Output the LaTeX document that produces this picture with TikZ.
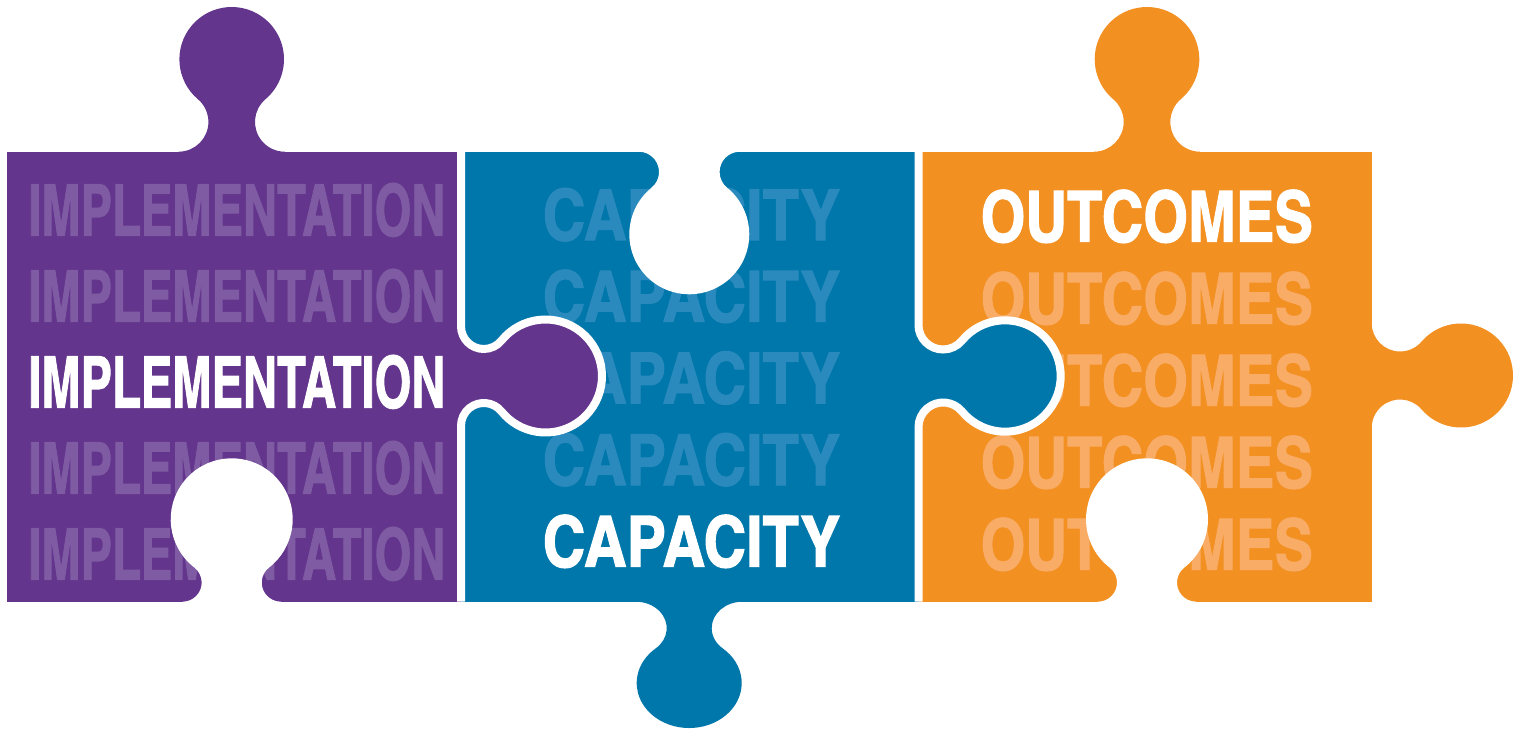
\documentclass[tikz,border=0pt]{standalone}
\usepackage{fontspec}
\setmainfont{TeX Gyre Heros}
\newfontfamily\cnd[BoldFeatures={FakeBold=1.5}]{TeX Gyre Heros Cn}
\usepackage{graphicx}
\definecolor{pur}{HTML}{63358C}
\definecolor{purl}{HTML}{7E5BA2}
\definecolor{blu}{HTML}{0077AA}
\definecolor{blul}{HTML}{2A8ABD}
\definecolor{ora}{HTML}{F39022}
\definecolor{oral}{HTML}{F8AC66}
\newcommand\setknob[3]{%
  \pgfmathsetmacro\knobT{(#2+#1-#3)/10}%
  \pgfmathsetmacro\knobQ{(#3/10)*(#3/10)+(#2/10)*(#2/10)-(#1/10)*(#1/10)}%
  \pgfmathsetmacro\knobr{10*(\knobT-sqrt(\knobT*\knobT-\knobQ))}%
  \pgfmathsetmacro\knobH{#3+\knobr}%
  \pgfmathsetmacro\knobA{atan2(#2-\knobr,\knobH)}%
  \pgfmathsetmacro\knobB{\knobA+180}%
  \pgfmathsetmacro\knobC{-\knobA}%
  \pgfmathsetmacro\knobD{180-\knobA}%
  \def\knobR{#1}%
}
\newcommand\knobfill[1]{%
  \fill[#1] (-\knobH,-4) -- (-\knobH,0)
    arc[start angle=-90,end angle=\knobA,radius=\knobr]
    arc[start angle=\knobB,end angle=\knobC,radius=\knobR]
    arc[start angle=\knobD,end angle=270,radius=\knobr]
    -- (\knobH,-4) -- cycle;}
\newcommand\knobline[3]{%
  \fill[#1] (-\knobH,-12) -- (-\knobH,0)
    arc[start angle=-90,end angle=\knobA,radius=\knobr]
    arc[start angle=\knobB,end angle=\knobC,radius=\knobR]
    arc[start angle=\knobD,end angle=270,radius=\knobr]
    -- (\knobH,-12) -- cycle;
  \draw[white,line width=8pt] (#2,0) -- (-\knobH,0)
    arc[start angle=-90,end angle=\knobA,radius=\knobr]
    arc[start angle=\knobB,end angle=\knobC,radius=\knobR]
    arc[start angle=\knobD,end angle=270,radius=\knobr]
    -- (#3,0);}
\tikzset{
  lbl/.style={inner sep=0pt,outer sep=0pt,anchor=base west,font=\cnd\bfseries},
  up/.style={x={(1pt,0pt)},y={(0pt,1pt)}},
  down/.style={x={(-1pt,0pt)},y={(0pt,-1pt)}},
  right/.style={x={(0pt,-1pt)},y={(1pt,0pt)}}
}
\begin{document}
\begin{tikzpicture}[x=1pt,y=-1pt]
\useasboundingbox (0,0) rectangle (1513,730);
\fill[white] (0,0) rectangle (1513,730);
% purple piece
\fill[pur] (7.3,151.7) rectangle (461,601.7);
\begin{scope}[shift={(231.7,151.7)},up]
  \setknob{52.3}{92.4}{23.3}\knobfill{pur}
\end{scope}
% blue piece
\fill[blu] (461,151.7) rectangle (918.5,601.7);
\begin{scope}[shift={(689.2,601.7)},x={(-1pt,0pt)},y={(0pt,-0.857pt)}]
  \setknob{52.5}{94.9}{22.5}\knobfill{blu}
\end{scope}
% orange piece
\fill[ora] (918.5,151.7) rectangle (1371.7,601.7);
\begin{scope}[shift={(1147,151.7)},up]
  \setknob{52.3}{92.4}{23.3}\knobfill{ora}
\end{scope}
\begin{scope}[shift={(1371.7,375.5)},right]
  \setknob{52}{89.3}{24}\knobfill{ora}
\end{scope}
% background words
\foreach \yy/\nm in {235.5/1,321.5/2,493.5/4,579.5/5}{
  \node[lbl,text=purl] (imp\nm) at (28.3,\yy) {\resizebox{417pt}{52.5pt}{IMPLEMENTATION}};}
\foreach \yy/\nm in {240/1,321.7/2,403.3/3,485/4}{
  \node[lbl,text=blul] (cap\nm) at (542.7,\yy) {\resizebox{297.3pt}{52pt}{CAPACITY}};}
\foreach \yy/\nm in {323.7/2,405.7/3,487.7/4,569.7/5}{
  \node[lbl,text=oral] (out\nm) at (980.7,\yy) {\resizebox{332pt}{52pt}{OUTCOMES}};}
% holes
\begin{scope}[shift={(231.7,601.7)},up]
  \setknob{61}{82.4}{30}\knobfill{white}
\end{scope}
\begin{scope}[shift={(1147,601.7)},up]
  \setknob{61}{82.4}{30}\knobfill{white}
\end{scope}
\begin{scope}[shift={(689.3,151.7)},down]
  \setknob{60}{82.6}{30.3}\knobfill{white}
\end{scope}
% interlocking knobs with white outlines
\begin{scope}[shift={(461,376)},right]
  \setknob{56.5}{84.5}{27}\knobline{pur}{-224.3}{225.7}
\end{scope}
\begin{scope}[shift={(918.5,376)},right]
  \setknob{55.7}{86.5}{26.5}\knobline{blu}{-224.3}{225.7}
\end{scope}
% foreground words
\node[lbl,text=white] (impmain) at (28.3,407.5) {\resizebox{417pt}{52.5pt}{IMPLEMENTATION}};
\node[lbl,text=white] (capmain) at (542.7,566.7) {\resizebox{297.3pt}{52pt}{CAPACITY}};
\node[lbl,text=white] (outmain) at (980.7,241.7) {\resizebox{332pt}{52pt}{OUTCOMES}};
\end{tikzpicture}
\end{document}
